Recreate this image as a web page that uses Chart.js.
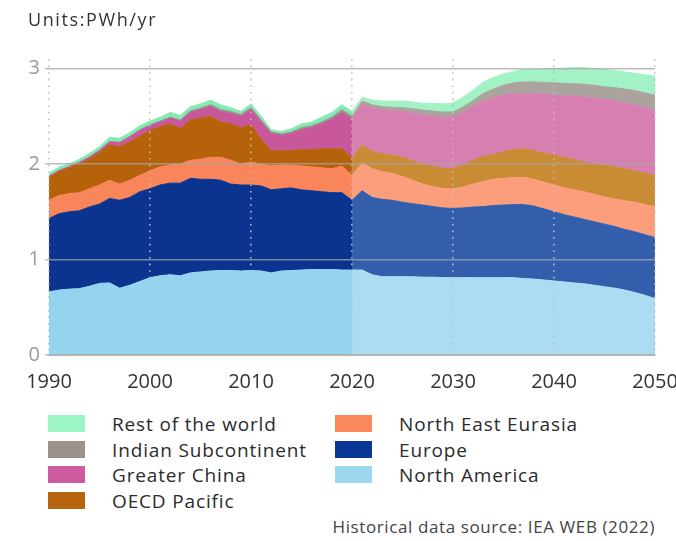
<!DOCTYPE html>
<html>
<head>
<meta charset="utf-8">
<script src="https://cdn.jsdelivr.net/npm/chart.js@4.4.1/dist/chart.umd.min.js"></script>
<style>
  body { margin: 0; background: #fff; font-family: 'Open Sans', sans-serif; }
  #wrap { position: relative; width: 676px; height: 541px; overflow: hidden; }
  #chart { position: absolute; left: 0; top: 0; }
  #units { position: absolute; left: 28px; top: 10px; font-size: 18px; line-height: 18px; color: #333; letter-spacing: 1.6px; }
  .row { position: absolute; height: 25.5px; line-height: 25.5px; font-size: 19px; color: #2b2b2b; letter-spacing: 0.85px; white-space: nowrap; }
  .sw { position: absolute; left: 0; top: 3px; width: 37px; height: 17px; }
  .row span { position: absolute; white-space: nowrap; }
  #source { position: absolute; right: 21px; top: 517px; font-size: 17px; line-height: 20px; color: #444; letter-spacing: 0.6px; }
</style>
</head>
<body>
<div id="wrap">
  <canvas id="chart" width="676" height="400"></canvas>
  <div id="units">Units:PWh/yr</div>
  <div id="legend"></div>
  <div id="source">Historical data source: IEA WEB (2022)</div>
</div>
<script>
// years on the x axis
var years = [1990, 1991, 1992, 1993, 1994, 1995, 1996, 1997, 1998, 1999,
    2000, 2001, 2002, 2003, 2004, 2005, 2006, 2007, 2008, 2009,
    2010, 2011, 2012, 2013, 2014, 2015, 2016, 2017, 2018, 2019,
    2020,
    2021, 2022, 2023, 2024, 2025, 2026, 2027, 2028, 2029, 2030,
    2031, 2032, 2033, 2034, 2035, 2036, 2037, 2038, 2039, 2040,
    2041, 2042, 2043, 2044, 2045, 2046, 2047, 2048, 2049, 2050];
var lastHistoricalYear = 2020;
var xTickLabels = [1990, 2000, 2010, 2020, 2030, 2040, 2050];
var yTickValues = [0, 1, 2, 3];

// PWh/yr per region
var northAmerica = [0.66, 0.68, 0.69, 0.695, 0.72, 0.75, 0.755, 0.70, 0.73, 0.77,
    0.81, 0.83, 0.84, 0.83, 0.86, 0.87, 0.88, 0.885, 0.885, 0.88,
    0.885, 0.88, 0.86, 0.88, 0.885, 0.89, 0.895, 0.895, 0.895, 0.89,
    0.89,
    0.89, 0.84, 0.82, 0.82, 0.82, 0.82, 0.815, 0.815, 0.81, 0.81,
    0.81, 0.81, 0.81, 0.81, 0.81, 0.81, 0.80, 0.795, 0.785, 0.775,
    0.765, 0.755, 0.745, 0.73, 0.715, 0.70, 0.68, 0.655, 0.625, 0.59];
var europe = [0.77, 0.80, 0.81, 0.815, 0.83, 0.83, 0.885, 0.92, 0.92, 0.94,
    0.93, 0.95, 0.96, 0.97, 0.99, 0.97, 0.96, 0.945, 0.905, 0.90,
    0.895, 0.89, 0.87, 0.86, 0.865, 0.84, 0.825, 0.815, 0.805, 0.81,
    0.73,
    0.83, 0.81, 0.81, 0.80, 0.78, 0.765, 0.755, 0.74, 0.73, 0.725,
    0.73, 0.74, 0.745, 0.755, 0.76, 0.765, 0.775, 0.765, 0.745, 0.725,
    0.705, 0.69, 0.675, 0.665, 0.655, 0.645, 0.635, 0.635, 0.635, 0.64];
var northEastEurasia = [0.19, 0.19, 0.19, 0.19, 0.19, 0.20, 0.19, 0.17, 0.18, 0.17,
    0.19, 0.19, 0.19, 0.20, 0.19, 0.21, 0.23, 0.24, 0.25, 0.22,
    0.24, 0.23, 0.25, 0.25, 0.24, 0.25, 0.25, 0.25, 0.25, 0.28,
    0.26,
    0.29, 0.30, 0.29, 0.28, 0.27, 0.245, 0.22, 0.21, 0.205, 0.205,
    0.22, 0.24, 0.265, 0.275, 0.28, 0.285, 0.285, 0.28, 0.28, 0.28,
    0.28, 0.285, 0.29, 0.285, 0.285, 0.29, 0.30, 0.31, 0.315, 0.32];
var oecdPacific = [0.24, 0.25, 0.27, 0.30, 0.31, 0.34, 0.37, 0.39, 0.40, 0.41,
    0.42, 0.42, 0.43, 0.37, 0.42, 0.43, 0.43, 0.37, 0.38, 0.38,
    0.39, 0.26, 0.16, 0.15, 0.15, 0.17, 0.18, 0.20, 0.21, 0.18,
    0.18,
    0.19, 0.18, 0.19, 0.19, 0.20, 0.205, 0.21, 0.21, 0.21, 0.21,
    0.23, 0.25, 0.26, 0.26, 0.28, 0.29, 0.30, 0.30, 0.305, 0.31,
    0.32, 0.315, 0.31, 0.32, 0.33, 0.335, 0.335, 0.33, 0.33, 0.33];
var greaterChina = [0.01, 0.01, 0.01, 0.015, 0.02, 0.02, 0.03, 0.04, 0.05, 0.06,
    0.05, 0.05, 0.06, 0.08, 0.08, 0.09, 0.10, 0.11, 0.11, 0.12,
    0.16, 0.18, 0.18, 0.16, 0.18, 0.21, 0.23, 0.26, 0.31, 0.38,
    0.41,
    0.43, 0.45, 0.46, 0.47, 0.48, 0.495, 0.51, 0.525, 0.535, 0.54,
    0.55, 0.56, 0.58, 0.59, 0.59, 0.59, 0.58, 0.60, 0.615, 0.63,
    0.645, 0.665, 0.68, 0.69, 0.695, 0.69, 0.69, 0.69, 0.685, 0.68];
var indianSubcontinent = [0.005, 0.005, 0.005, 0.005, 0.005, 0.005, 0.005, 0.01, 0.01, 0.01,
    0.01, 0.01, 0.01, 0.01, 0.015, 0.015, 0.02, 0.02, 0.02, 0.02,
    0.02, 0.02, 0.015, 0.015, 0.015, 0.02, 0.02, 0.02, 0.02, 0.03,
    0.03,
    0.03, 0.04, 0.03, 0.035, 0.04, 0.05, 0.055, 0.055, 0.055, 0.055,
    0.06, 0.065, 0.08, 0.095, 0.105, 0.11, 0.12, 0.12, 0.125, 0.13,
    0.13, 0.13, 0.135, 0.135, 0.13, 0.14, 0.145, 0.15, 0.155, 0.16];
var restOfWorld = [0.03, 0.035, 0.025, 0.03, 0.035, 0.035, 0.045, 0.04, 0.04, 0.04,
    0.04, 0.04, 0.05, 0.05, 0.045, 0.045, 0.05, 0.05, 0.04, 0.03,
    0.04, 0.04, 0.025, 0.025, 0.035, 0.04, 0.04, 0.05, 0.05, 0.05,
    0.05,
    0.04, 0.05, 0.06, 0.065, 0.07, 0.07, 0.07, 0.08, 0.085, 0.095,
    0.10, 0.11, 0.12, 0.12, 0.12, 0.12, 0.13, 0.13, 0.14, 0.15,
    0.16, 0.17, 0.175, 0.175, 0.18, 0.18, 0.18, 0.18, 0.19, 0.20];

// bottom to top; hist = data colour, proj = lighter forecast colour
var regions = [
    { name: "North America", data: northAmerica, hist: "#95d4ee", proj: "#abdcf1", key: "#9cd7ef" },
    { name: "Europe", data: europe, hist: "#0a3490", proj: "#335eab", key: "#0b3794" },
    { name: "North East Eurasia", data: northEastEurasia, hist: "#f9855a", proj: "#fc9e7c", key: "#fb895c" },
    { name: "OECD Pacific", data: oecdPacific, hist: "#b5620a", proj: "#c98b34", key: "#b6650e" },
    { name: "Greater China", data: greaterChina, hist: "#c9579b", proj: "#d87fb2", key: "#cc5b9f" },
    { name: "Indian Subcontinent", data: indianSubcontinent, hist: "#9a928b", proj: "#aba49e", key: "#9c948c" },
    { name: "Rest of the world", data: restOfWorld, hist: "#83eab2", proj: "#a3f2c6", key: "#9cf5c4" }
];

var splitIndex = years.indexOf(lastHistoricalYear);

function buildChart(canvasID) {
    Chart.defaults.font.family = "'Open Sans', sans-serif";

    var datasets = regions.map(function (r, i) {
        var pick = function (ctx) { return ctx.p0DataIndex >= splitIndex ? r.proj : r.hist; };
        return {
            label: r.name,
            data: r.data,
            backgroundColor: r.hist,
            borderColor: r.hist,
            borderWidth: 1,
            pointRadius: 0,
            tension: 0,
            fill: i === 0 ? "origin" : "-1",
            segment: { backgroundColor: pick, borderColor: pick }
        };
    });

    new Chart(document.getElementById(canvasID), {
        type: "line",
        data: { labels: years, datasets: datasets },
        options: {
            responsive: false,
            animation: false,
            events: [],
            layout: { autoPadding: false, padding: { left: 0, right: 21, top: 59, bottom: 0 } },
            plugins: { legend: { display: false }, tooltip: { enabled: false } },
            scales: {
                x: {
                    offset: false,
                    afterFit: function (s) {
                        s.height = 45;
                        // let "2050" run off the edge like the original
                        s.paddingLeft = 0;
                        s.paddingRight = 0;
                    },
                    grid: {
                        z: 1,
                        drawTicks: false,
                        lineWidth: 1.6,
                        color: function (ctx) {
                            return xTickLabels.indexOf(years[ctx.index]) >= 0 ? "rgba(190,190,196,0.95)" : "rgba(0,0,0,0)";
                        }
                    },
                    border: { z: 1, color: "#c4c4c4", width: 2, dash: [1.6, 5] },
                    ticks: {
                        autoSkip: false,
                        maxRotation: 0,
                        padding: 15,
                        color: "#333",
                        font: { size: 20 },
                        callback: function (v) {
                            var yr = this.getLabelForValue(v);
                            return xTickLabels.indexOf(yr) >= 0 ? String(yr) : "";
                        }
                    }
                },
                y: {
                    stacked: true,
                    min: 0,
                    max: 3.1,
                    afterFit: function (s) { s.width = 49; },
                    afterBuildTicks: function (s) {
                        s.ticks = yTickValues.map(function (v) { return { value: v }; });
                    },
                    grid: { z: 1, color: "rgba(165,165,165,0.75)", lineWidth: 1.5, tickLength: 4 },
                    border: { display: false },
                    ticks: { color: "#9a9a9a", padding: 5, font: { size: 20 } }
                }
            }
        }
    });
}

function buildLegend() {
    // two columns, same order as the picture
    var cols = [
        ["Rest of the world", "Indian Subcontinent", "Greater China", "OECD Pacific"],
        ["North East Eurasia", "Europe", "North America"]
    ];
    var colX = [48, 335];
    var box = document.getElementById("legend");
    cols.forEach(function (names, c) {
        names.forEach(function (name, i) {
            var r = regions.filter(function (g) { return g.name === name; })[0];
            var row = document.createElement("div");
            row.className = "row";
            row.style.left = colX[c] + "px";
            row.style.top = (412 + i * 25.5) + "px";
            row.innerHTML = '<div class="sw" style="background:' + r.key + '"></div><span style="left:64px">' + name + '</span>';
            box.appendChild(row);
        });
    });
}

buildLegend();
buildChart("chart");
</script>
</body>
</html>
